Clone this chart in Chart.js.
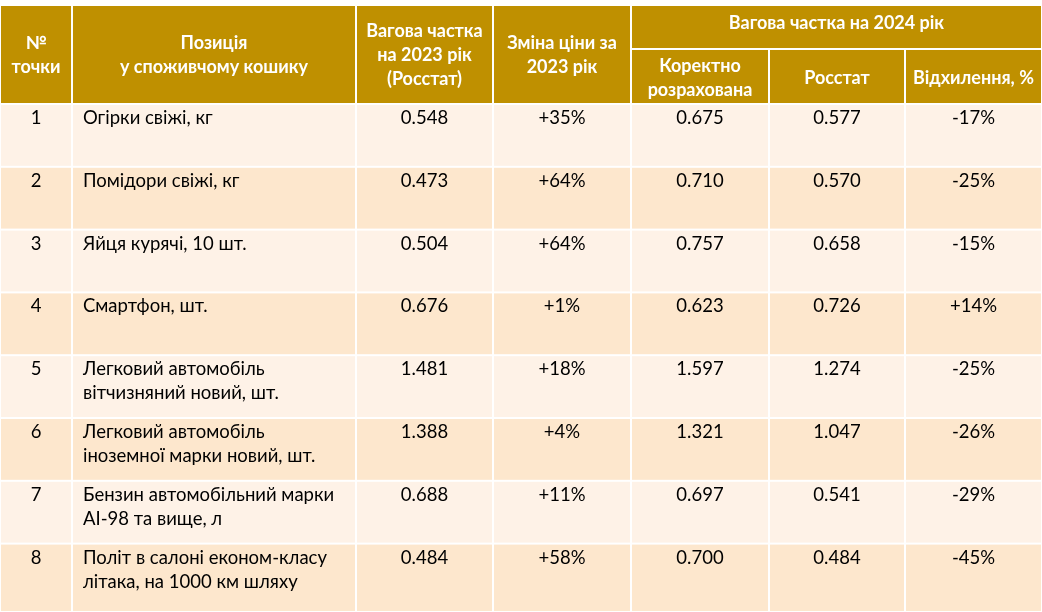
<!DOCTYPE html>
<html lang="uk">
<head>
<meta charset="utf-8">
<script src="https://cdn.jsdelivr.net/npm/chart.js@4.4.1/dist/chart.umd.min.js"></script>
<style>
    html, body { margin: 0; padding: 0; background: #ffffff; }
    #wrap { width: 1042px; height: 612px; }
</style>
</head>
<body>
<div id="wrap"><canvas id="basketTable"></canvas></div>
<script>
// дані таблиці
const pointNos = ['1', '2', '3', '4', '5', '6', '7', '8'];
const items = [
    ['Огірки свіжі, кг'],
    ['Помідори свіжі, кг'],
    ['Яйця курячі, 10 шт.'],
    ['Смартфон, шт.'],
    ['Легковий автомобіль', 'вітчизняний новий, шт.'],
    ['Легковий автомобіль', 'іноземної марки новий, шт.'],
    ['Бензин автомобільний марки', 'AI-98 та вище, л'],
    ['Політ в салоні економ-класу', 'літака, на 1000 км шляху']
];
const weights2023 = [0.548, 0.473, 0.504, 0.676, 1.481, 1.388, 0.688, 0.484];
const priceChange2023 = [35, 64, 64, 1, 18, 4, 11, 58];
const correct2024 = [0.675, 0.710, 0.757, 0.623, 1.597, 1.321, 0.697, 0.700];
const rosstat2024 = [0.577, 0.570, 0.658, 0.726, 1.274, 1.047, 0.541, 0.484];
const deviation2024 = [-17, -25, -15, 14, -25, -26, -29, -45];

const headers = [
    ['№', 'точки'],
    ['Позиція', 'у споживчому кошику'],
    ['Вагова частка', 'на 2023 рік', '(Росстат)'],
    ['Зміна ціни за', '2023 рік']
];
const groupHeader = ['Вагова частка на 2024 рік'];
const subHeaders = [['Коректно', 'розрахована'], ['Росстат'], ['Відхилення, %']];

// розмітка
const colWidths = [72, 284, 137, 138, 138, 136, 137];
const headTop = 5;
const headRow1 = 44;
const headRow2 = 55;
const rowHeight = 62.8;
const totalWidth = colWidths.reduce((a, b) => a + b, 0);
const totalHeight = 612;

const HEAD_BG = '#bf9000';
const ROW_BG = ['#fef2e7', '#fde7cd'];
const BODY_FONT = '18.5px Lato';
const HEAD_FONT = 'bold 18px Lato';
const LINE_H = 24;
const HEAD_LINE_H = 24;

const colEdges = colWidths.reduce((acc, w) => { acc.push(acc[acc.length - 1] + w); return acc; }, [0]);
const headBottom = headTop + headRow1 + headRow2;

const fmt3 = v => v.toFixed(3);
const fmtPct = v => (v > 0 ? '+' : '') + v + '%';

const columns = [
    pointNos.map(v => [v]),
    items,
    weights2023.map(v => [fmt3(v)]),
    priceChange2023.map(v => [fmtPct(v)]),
    correct2024.map(v => [fmt3(v)]),
    rosstat2024.map(v => [fmt3(v)]),
    deviation2024.map(v => [fmtPct(v)])
];

// кожна клітинка — точка датасету з межами в одиницях шкал
const datasets = columns.map((col, c) => ({
    label: 'col' + c,
    data: col.map((lines, r) => ({
        x: (colEdges[c] + colEdges[c + 1]) / 2,
        y: headBottom + rowHeight * (r + 0.5),
        x0: colEdges[c], x1: colEdges[c + 1],
        y0: headBottom + rowHeight * r,
        y1: r === col.length - 1 ? totalHeight : headBottom + rowHeight * (r + 1),
        lines: lines,
        row: r,
        align: c === 1 ? 'left' : 'center'
    })),
    pointRadius: 0,
    showLine: false
}));

const headerCells = [];
headers.forEach((lines, c) => headerCells.push({
    x0: colEdges[c], x1: colEdges[c + 1], y0: headTop, y1: headBottom, lines: lines, shift: 1
}));
headerCells.push({
    x0: colEdges[4], x1: colEdges[7], y0: headTop, y1: headTop + headRow1, lines: groupHeader, shift: -4
});
subHeaders.forEach((lines, i) => headerCells.push({
    x0: colEdges[4 + i], x1: colEdges[5 + i], y0: headTop + headRow1, y1: headBottom, lines: lines, shift: 2
}));

function drawLines(ctx, lines, x, yMid, lineH) {
    const start = yMid - (lines.length - 1) * lineH / 2;
    lines.forEach((t, i) => ctx.fillText(t, x, start + i * lineH));
}

const tablePlugin = {
    id: 'tablePlugin',
    beforeDatasetsDraw(chart) {
        const ctx = chart.ctx;
        const xs = chart.scales.x;
        const ys = chart.scales.y;
        const rect = cell => {
            const l = xs.getPixelForValue(cell.x0), r = xs.getPixelForValue(cell.x1);
            const t = ys.getPixelForValue(cell.y0), b = ys.getPixelForValue(cell.y1);
            return { l: l + 1, r: r - 1, t: t + 1, b: b - 1 };
        };
        ctx.save();

        // шапка
        headerCells.forEach(cell => {
            const p = rect(cell);
            ctx.fillStyle = HEAD_BG;
            ctx.fillRect(p.l, p.t, p.r - p.l, p.b - p.t);
            ctx.fillStyle = '#ffffff';
            ctx.font = HEAD_FONT;
            ctx.textAlign = 'center';
            ctx.textBaseline = 'middle';
            drawLines(ctx, cell.lines, (p.l + p.r) / 2, (p.t + p.b) / 2 + cell.shift, HEAD_LINE_H);
        });

        // рядки
        chart.data.datasets.forEach(ds => {
            ds.data.forEach(cell => {
                const p = rect(cell);
                ctx.fillStyle = ROW_BG[cell.row % 2];
                ctx.fillRect(p.l, p.t, p.r - p.l, p.b - p.t);
                ctx.fillStyle = '#000000';
                ctx.font = BODY_FONT;
                ctx.textAlign = cell.align;
                ctx.textBaseline = 'middle';
                const tx = cell.align === 'left' ? p.l + 10 : (p.l + p.r) / 2;
                const top = ys.getPixelForValue(cell.y0);
                const first = top + 14;
                cell.lines.forEach((t, i) => ctx.fillText(t, tx, first + i * LINE_H));
            });
        });
        ctx.restore();
    }
};

new Chart(document.getElementById('basketTable'), {
    type: 'scatter',
    data: { datasets: datasets },
    options: {
        responsive: true,
        maintainAspectRatio: false,
        animation: false,
        layout: { padding: 0 },
        plugins: { legend: { display: false }, tooltip: { enabled: false } },
        scales: {
            x: { type: 'linear', min: 0, max: totalWidth, display: false },
            y: { type: 'linear', min: 0, max: totalHeight, reverse: true, display: false }
        }
    },
    plugins: [tablePlugin]
});
</script>
</body>
</html>
